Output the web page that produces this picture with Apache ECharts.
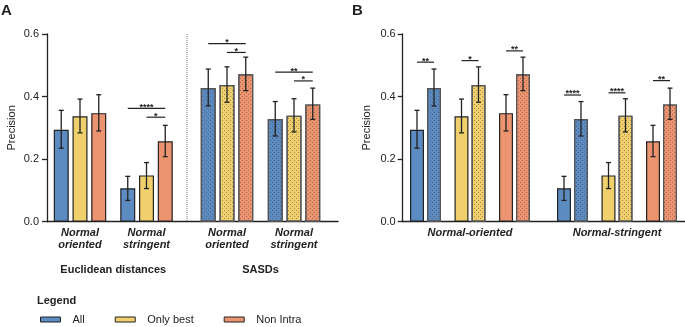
<!DOCTYPE html>
<html>
<head>
<meta charset="utf-8">
<script src="https://cdn.jsdelivr.net/npm/echarts@6/dist/echarts.min.js"></script>
<style>
  html, body { margin: 0; padding: 0; background: #fff; }
  #chart { width: 685px; height: 327px; }
</style>
</head>
<body>
<div id="chart"></div>
<script>
// ---- data ----
const groups = ['All', 'Only best', 'Non Intra'];
const panelACats = ['Normal\noriented', 'Normal\nstringent'];
const yTicks = [0, 0.2, 0.4, 0.6];

// precision (bar top) and error bar ends, per group [All, Only best, Non Intra]
const eucOriented = [0.294, 0.337, 0.347];
const eucOrientedLo = [0.235, 0.284, 0.290];
const eucOrientedHi = [0.356, 0.392, 0.406];
const eucStringent = [0.107, 0.148, 0.257];
const eucStringentLo = [0.068, 0.106, 0.208];
const eucStringentHi = [0.145, 0.189, 0.308];
const sasOriented = [0.427, 0.437, 0.471];
const sasOrientedLo = [0.370, 0.382, 0.419];
const sasOrientedHi = [0.488, 0.495, 0.526];
const sasStringent = [0.328, 0.339, 0.375];
const sasStringentLo = [0.274, 0.287, 0.327];
const sasStringentHi = [0.384, 0.393, 0.427];

// significance brackets: [category, level, fromBar, toBar], stars kept apart
const sigEuc = [[1, 0.362, 0, 2], [1, 0.334, 1, 2]];
const sigEucStars = ['****', '*'];
const sigSas = [[0, 0.569, 0, 2], [0, 0.541, 1, 2], [1, 0.478, 0, 2], [1, 0.450, 1, 2]];
const sigSasStars = ['*', '*', '**', '*'];
const sigOri = [[0, 0.510, 0, 1], [1, 0.515, 0, 1], [2, 0.546, 0, 1]];
const sigOriStars = ['**', '*', '**'];
const sigStr = [[0, 0.405, 0, 1], [1, 0.412, 0, 1], [2, 0.451, 0, 1]];
const sigStrStars = ['****', '****', '**'];

// ---- styles ----
const colors = ['#5b8bc0', '#efd06c', '#ec9470'];
const FONT = 'Liberation Sans, Arial, sans-serif';
const INK = '#222';
const TOP = 34, H = 187.7;
const A_BAR = 15, A_GAP = 3.75;
const B_BAR = 14, B_GAP = 3;
const decal = {
  symbol: 'rect', symbolSize: 1, color: 'rgba(70,50,50,0.45)',
  dashArrayX: [[1, 2.4], [0, 1.7, 1, 0.7]], dashArrayY: [1, 0.7]
};

function barOffset(idx, n, w, gap) {
  return (idx - (n - 1) / 2) * (w + gap);
}

function errorSeries(axis, n, w, gap, data) {
  return {
    type: 'custom', xAxisIndex: axis, yAxisIndex: axis, z: 5, silent: true,
    data: data,
    renderItem: function (params, api) {
      const c = api.value(0), idx = api.value(3);
      const pLo = api.coord([c, api.value(1)]);
      const pHi = api.coord([c, api.value(2)]);
      const x = pLo[0] + barOffset(idx, n, w, gap);
      const st = { stroke: INK, lineWidth: 1.3 };
      return {
        type: 'group', children: [
          { type: 'line', shape: { x1: x, y1: pLo[1], x2: x, y2: pHi[1] }, style: st },
          { type: 'line', shape: { x1: x - 2.5, y1: pLo[1], x2: x + 2.5, y2: pLo[1] }, style: st },
          { type: 'line', shape: { x1: x - 2.5, y1: pHi[1], x2: x + 2.5, y2: pHi[1] }, style: st }
        ]
      };
    }
  };
}

function sigSeries(axis, n, w, gap, data, stars) {
  return {
    type: 'custom', xAxisIndex: axis, yAxisIndex: axis, z: 6, silent: true,
    data: data,
    renderItem: function (params, api) {
      const p = api.coord([api.value(0), api.value(1)]);
      const x1 = p[0] + barOffset(api.value(2), n, w, gap);
      const x2 = p[0] + barOffset(api.value(3), n, w, gap);
      return {
        type: 'group', children: [
          { type: 'line', shape: { x1: x1, y1: p[1], x2: x2, y2: p[1] }, style: { stroke: INK, lineWidth: 1.2 } },
          { type: 'text', x: (x1 + x2) / 2, y: p[1] - 1,
            style: { text: stars[params.dataIndex], fontSize: 9, fontWeight: 'bold', fontFamily: FONT,
                     fill: INK, align: 'center', verticalAlign: 'middle' } }
        ]
      };
    }
  };
}

function errData(los, his) {
  // los/his: list per bar index of [cat0, cat1, ...]
  const out = [];
  los.forEach((lo, i) => lo.forEach((v, c) => out.push([c, v, his[i][c], i])));
  return out;
}

const chart = echarts.init(document.getElementById('chart'));

const frameY = {
  type: 'value', min: 0, max: 0.6, interval: 0.2,
  name: 'Precision', nameLocation: 'middle', nameGap: 30,
  nameTextStyle: { fontSize: 11, color: INK, fontFamily: FONT },
  axisLine: { show: true, lineStyle: { color: INK, width: 1.3 } },
  axisTick: { show: true, length: 5, lineStyle: { color: INK, width: 1.3 } },
  axisLabel: { fontSize: 11, color: INK, fontFamily: FONT, margin: 8,
               formatter: v => yTicks.indexOf(Math.round(v * 10) / 10) >= 0 ? v.toFixed(1) : '' },
  splitLine: { show: false }
};
const frameX = {
  type: 'value', min: 0, max: 1,
  axisLine: { show: true, lineStyle: { color: INK, width: 1.3 } },
  axisTick: { show: false }, axisLabel: { show: false }, splitLine: { show: false }
};
const hiddenY = { type: 'value', min: 0, max: 0.6, show: false };
function catX(grid, data, name, gap, showLabels) {
  return {
    type: 'category', gridIndex: grid, data: data,
    axisLine: { show: false }, axisTick: { show: false },
    axisLabel: { show: showLabels, fontSize: 11, lineHeight: 12, fontStyle: 'italic', fontWeight: 'bold',
                 color: INK, fontFamily: FONT, margin: 5, interval: 0 },
    name: name, nameLocation: 'middle', nameGap: gap,
    nameTextStyle: { fontSize: 11, fontWeight: 'bold', color: INK, fontFamily: FONT,
                     fontStyle: showLabels ? 'normal' : 'italic' }
  };
}

const series = [];
// panel A, Euclidean distances (solid bars)
groups.forEach((g, i) => series.push({
  type: 'bar', name: g, xAxisIndex: 1, yAxisIndex: 1,
  data: [eucOriented[i], eucStringent[i]],
  barWidth: A_BAR, barGap: (A_GAP / A_BAR * 100) + '%',
  itemStyle: { color: colors[i], borderColor: INK, borderWidth: 1.2 }
}));
// panel A, SASDs (dotted bars)
groups.forEach((g, i) => series.push({
  type: 'bar', name: g, xAxisIndex: 2, yAxisIndex: 2,
  data: [sasOriented[i], sasStringent[i]],
  barWidth: A_BAR, barGap: (A_GAP / A_BAR * 100) + '%',
  itemStyle: { color: colors[i], borderColor: '#555', borderWidth: 1.2, decal: decal }
}));
series.push(errorSeries(1, 3, A_BAR, A_GAP, errData(
  groups.map((g, i) => [eucOrientedLo[i], eucStringentLo[i]]),
  groups.map((g, i) => [eucOrientedHi[i], eucStringentHi[i]]))));
series.push(errorSeries(2, 3, A_BAR, A_GAP, errData(
  groups.map((g, i) => [sasOrientedLo[i], sasStringentLo[i]]),
  groups.map((g, i) => [sasOrientedHi[i], sasStringentHi[i]]))));
series.push(sigSeries(1, 3, A_BAR, A_GAP, sigEuc, sigEucStars));
series.push(sigSeries(2, 3, A_BAR, A_GAP, sigSas, sigSasStars));

// panel B: per condition, Euclidean (solid) next to SASDs (dotted)
[[4, eucOriented, sasOriented], [5, eucStringent, sasStringent]].forEach(([ax, euc, sas]) => {
  series.push({
    type: 'bar', name: 'Euclidean', xAxisIndex: ax, yAxisIndex: ax,
    data: euc.map((v, i) => ({ value: v, itemStyle: { color: colors[i] } })),
    barWidth: B_BAR, barGap: (B_GAP / B_BAR * 100) + '%',
    itemStyle: { borderColor: INK, borderWidth: 1.2 }
  });
  series.push({
    type: 'bar', name: 'SASDs', xAxisIndex: ax, yAxisIndex: ax,
    data: sas.map((v, i) => ({ value: v, itemStyle: { color: colors[i] } })),
    barWidth: B_BAR, barGap: (B_GAP / B_BAR * 100) + '%',
    itemStyle: { borderColor: '#555', borderWidth: 1.2, decal: decal }
  });
});
series.push(errorSeries(4, 2, B_BAR, B_GAP, errData([eucOrientedLo, sasOrientedLo], [eucOrientedHi, sasOrientedHi])));
series.push(errorSeries(5, 2, B_BAR, B_GAP, errData([eucStringentLo, sasStringentLo], [eucStringentHi, sasStringentHi])));
series.push(sigSeries(4, 2, B_BAR, B_GAP, sigOri, sigOriStars));
series.push(sigSeries(5, 2, B_BAR, B_GAP, sigStr, sigStrStars));

chart.setOption({
  animation: false,
  textStyle: { fontFamily: FONT },
  title: [
    { text: 'A', left: 1, top: 3, padding: 0, textStyle: { fontSize: 15, fontWeight: 'bold', color: INK, fontFamily: FONT } },
    { text: 'B', left: 352, top: 3, padding: 0, textStyle: { fontSize: 15, fontWeight: 'bold', color: INK, fontFamily: FONT } },
    { text: 'Legend', left: 37, top: 295, padding: 0, textStyle: { fontSize: 11, fontWeight: 'bold', color: INK, fontFamily: FONT } }
  ],
  legend: {
    data: groups, left: 40, top: 314, padding: 0,
    icon: 'rect', itemWidth: 20, itemHeight: 5, itemGap: 30,
    itemStyle: { borderWidth: 1 },
    textStyle: { fontSize: 11, color: INK, fontFamily: FONT, padding: [0, 0, 0, 7] }
  },
  grid: [
    { left: 47, top: TOP, width: 291, height: H },
    { left: 46.75, top: TOP, width: 133, height: H },
    { left: 193.5, top: TOP, width: 134, height: H },
    { left: 402.7, top: TOP, width: 282.3, height: H },
    { left: 403.25, top: TOP, width: 133.5, height: H },
    { left: 550.25, top: TOP, width: 133.5, height: H }
  ],
  xAxis: [
    Object.assign({ gridIndex: 0 }, frameX),
    catX(1, panelACats, 'Euclidean distances', 43, true),
    catX(2, panelACats, 'SASDs', 43, true),
    Object.assign({ gridIndex: 3 }, frameX),
    catX(4, groups, 'Normal-oriented', 6, false),
    catX(5, groups, 'Normal-stringent', 6, false)
  ],
  yAxis: [
    Object.assign({ gridIndex: 0 }, frameY),
    Object.assign({ gridIndex: 1 }, hiddenY),
    Object.assign({ gridIndex: 2 }, hiddenY),
    Object.assign({ gridIndex: 3 }, frameY, { axisLabel: Object.assign({}, frameY.axisLabel, { margin: 7 }) }),
    Object.assign({ gridIndex: 4 }, hiddenY),
    Object.assign({ gridIndex: 5 }, hiddenY)
  ],
  graphic: [
    { type: 'line', shape: { x1: 187, y1: TOP, x2: 187, y2: TOP + H }, z: 1,
      style: { stroke: '#777', lineWidth: 1, lineDash: [1, 1] } }
  ],
  series: series
});
</script>
</body>
</html>
